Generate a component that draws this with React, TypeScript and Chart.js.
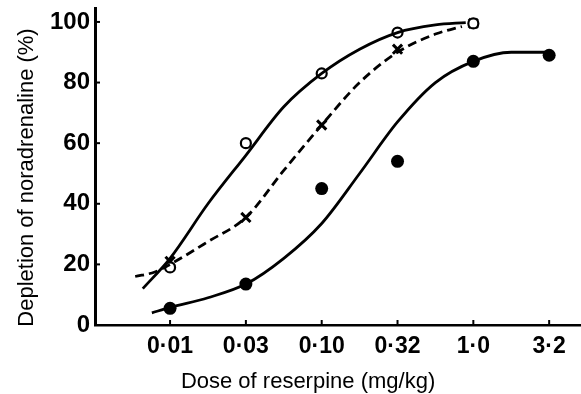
import React, { useEffect, useRef } from "react";
import { Chart, registerables } from "chart.js";

Chart.register(...registerables);

// Categories (dose of reserpine, mg/kg), evenly spaced on a log axis
const doseLabels = ["0·01", "0·03", "0·10", "0·32", "1·0", "3·2"];
const yTickValues = [0, 20, 40, 60, 80, 100];

// Measured points (index into doseLabels, value %)
const openIdx = [0, 1, 2, 3, 4];
const openVals = [19, 60, 83, 96.5, 99.5];
const crossIdx = [0, 1, 2, 3, 4];
const crossVals = [21, 35.5, 66, 91, 99.5];
const filledIdx = [0, 1, 2, 3, 4, 5];
const filledVals = [5.5, 13.5, 45, 54, 87, 89];

// Hand-fitted curves (x in category-index units)
const openCurveX = [-0.36, 0, 0.5, 1, 1.5, 2, 2.5, 3, 3.5, 3.9];
const openCurveY = [12, 22, 40, 56, 72, 83, 91, 96.5, 99, 99.8];
const crossCurveX = [-0.46, -0.2, 0, 0.5, 1, 1.5, 2, 2.5, 3, 3.5, 3.85];
const crossCurveY = [16, 17.5, 20, 27.5, 35.5, 51, 66, 80, 90, 96, 98.5];
const filledCurveX = [-0.24, 0, 0.5, 1, 1.5, 2, 2.5, 3, 3.5, 4, 4.5, 4.96];
const filledCurveY = [4, 5.8, 9, 13.5, 22, 33.5, 50, 67, 80, 87, 90, 90];

const yTitle = "Depletion of noradrenaline (%)";
const xTitle = "Dose of reserpine (mg/kg)";

const zip = (xs: number[], ys: number[]) => xs.map((x, i) => ({ x, y: ys[i] }));

export default function App() {
  const ref = useRef<HTMLCanvasElement | null>(null);

  useEffect(() => {
    document.body.style.margin = "0";
    const canvas = ref.current;
    if (!canvas) return;

    const decor = {
      id: "decor",
      afterDraw(chart: any) {
        const ctx = chart.ctx;
        const xs = chart.scales.x;
        const ys = chart.scales.y;
        const ca = chart.chartArea;
        ctx.save();
        ctx.strokeStyle = "#000";
        ctx.lineWidth = 2;
        // inner tick marks
        yTickValues.forEach((v) => {
          if (v === 0) return;
          const py = ys.getPixelForValue(v);
          ctx.beginPath();
          ctx.moveTo(ca.left, py);
          ctx.lineTo(ca.left + 5, py);
          ctx.stroke();
        });
        doseLabels.forEach((_, i) => {
          const px = xs.getPixelForValue(i);
          ctx.beginPath();
          ctx.moveTo(px, ca.bottom);
          ctx.lineTo(px, ca.bottom - 5);
          ctx.stroke();
        });
        // axis titles
        ctx.fillStyle = "#000";
        ctx.font = "22px 'Liberation Sans', Arial, sans-serif";
        ctx.textAlign = "center";
        ctx.textBaseline = "alphabetic";
        ctx.fillText(xTitle, xs.getPixelForValue(1.82), ca.bottom + 63);
        ctx.translate(33, (ca.top + ca.bottom) / 2 + 11);
        ctx.rotate(-Math.PI / 2);
        ctx.fillText(yTitle, 0, 0);
        ctx.restore();
      },
    };

    const chart = new Chart(canvas, {
      type: "scatter",
      data: {
        datasets: [
          {
            data: zip(openCurveX, openCurveY),
            showLine: true,
            borderColor: "#000",
            borderWidth: 2.8,
            pointRadius: 0,
            cubicInterpolationMode: "monotone",
          },
          {
            data: zip(crossCurveX, crossCurveY),
            showLine: true,
            borderColor: "#000",
            borderWidth: 2.8,
            borderDash: [9, 5],
            pointRadius: 0,
            cubicInterpolationMode: "monotone",
          },
          {
            data: zip(filledCurveX, filledCurveY),
            showLine: true,
            borderColor: "#000",
            borderWidth: 2.8,
            pointRadius: 0,
            cubicInterpolationMode: "monotone",
          },
          {
            data: zip(openIdx, openVals),
            showLine: false,
            pointStyle: "circle",
            pointRadius: 5,
            pointBorderWidth: 2.2,
            pointBorderColor: "#000",
            pointBackgroundColor: "#fff",
          },
          {
            data: zip(crossIdx, crossVals),
            showLine: false,
            pointStyle: "crossRot",
            pointRadius: 6.5,
            pointBorderWidth: 3,
            pointBorderColor: "#000",
            pointBackgroundColor: "#000",
          },
          {
            data: zip(filledIdx, filledVals),
            showLine: false,
            pointStyle: "circle",
            pointRadius: 6.5,
            pointBorderWidth: 0,
            pointBorderColor: "#000",
            pointBackgroundColor: "#000",
          },
        ],
      } as any,
      options: {
        animation: false,
        responsive: true,
        maintainAspectRatio: false,
        layout: { autoPadding: false, padding: { top: 8, right: 0, left: 0, bottom: 0 } },
        plugins: {
          legend: { display: false },
          tooltip: { enabled: false },
        },
        scales: {
          x: {
            type: "linear",
            min: -0.99,
            max: 5.42,
            grid: { display: false, drawTicks: false, tickLength: 0 },
            border: { display: true, color: "#000", width: 2.5 },
            afterBuildTicks: (s: any) => {
              s.ticks = doseLabels.map((_, i) => ({ value: i }));
            },
            afterFit: (s: any) => {
              s.height = 69;
              s.paddingLeft = 0;
              s.paddingRight = 0;
            },
            ticks: {
              color: "#000",
              padding: 8,
              autoSkip: false,
              maxRotation: 0,
              font: { family: "'Liberation Sans', Arial, sans-serif", size: 23, weight: "bold" },
              callback: (v: any) => doseLabels[Math.round(Number(v))] ?? "",
            },
          },
          y: {
            type: "linear",
            min: 0,
            max: 104.6,
            grid: { display: false, drawTicks: false, tickLength: 0 },
            border: { display: true, color: "#000", width: 3 },
            afterBuildTicks: (s: any) => {
              s.ticks = yTickValues.map((v) => ({ value: v }));
            },
            afterFit: (s: any) => {
              s.width = 95;
              s.paddingTop = 0;
              s.paddingBottom = 0;
            },
            ticks: {
              color: "#000",
              padding: 5,
              font: { family: "'Liberation Sans', Arial, sans-serif", size: 24, weight: "bold" },
            },
          },
        },
      } as any,
      plugins: [decor],
    });
    return () => chart.destroy();
  }, []);

  return (
    <div style={{ position: "absolute", left: 0, top: 0, width: 581, height: 394, background: "#fff" }}>
      <canvas ref={ref} />
    </div>
  );
}
